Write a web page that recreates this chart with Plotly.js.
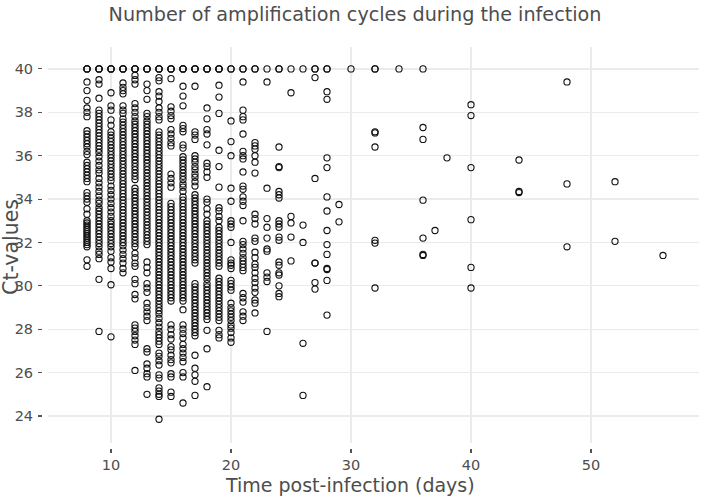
<!DOCTYPE html>
<html><head><meta charset="utf-8">
<script src="https://cdn.plot.ly/plotly-3.0.1.min.js"></script>
<style>html,body{margin:0;padding:0;background:#fff}#chart{width:710px;height:500px}</style>
</head><body><div id="chart"></div>
<script>
const days = [8,9,10,11,12,13,14,15,16,17,18,19,20,21,22,23,24,25,26,27,28,29,30,32,34,36,37,38,40,44,48,52,56];

const ct8 = [40,40,40,39.4,39.0,38.55,38.2,38.0,37.8,37.15,37.0,36.85,36.7,36.55,36.4,36.2,36.05,35.7,35.55,35.4,35.25,35.1,34.95,34.8,34.3,34.15,34.0,33.85,33.55,33.3,33.0,32.9,32.8,32.7,32.6,32.5,32.4,32.3,32.2,32.1,32.0,31.9,31.8,31.2,30.9];
const ct9 = [40,40,40,39.5,39.3,38.65,38.1,37.95,37.8,37.65,37.5,37.35,37.2,37.05,36.9,36.75,36.6,36.45,36.3,36.15,35.95,35.75,35.55,35.35,35.2,34.95,34.75,34.55,34.35,34.15,33.95,33.8,33.6,33.45,33.3,33.15,33.0,32.85,32.7,32.55,32.4,32.25,32.1,31.95,31.8,31.6,31.45,31.25,30.3,27.9];
const ct10 = [40,40,40,38.9,38.3,38.1,37.65,37.4,37.1,36.95,36.8,36.65,36.5,36.35,36.2,36.05,35.9,35.75,35.6,35.45,35.3,35.15,35.0,34.85,34.6,34.4,34.2,34.0,33.8,33.6,33.4,33.2,33.0,32.85,32.7,32.55,32.4,32.25,32.1,31.95,31.8,31.6,31.3,31.1,30.8,30.05,27.65];
const ct11 = [40,40,40,39.35,39.15,39.0,38.85,38.3,38.1,37.95,37.7,37.55,37.4,37.25,37.1,36.95,36.8,36.65,36.5,36.35,36.2,36.05,35.9,35.75,35.6,35.45,35.3,35.15,35.0,34.85,34.7,34.55,34.4,34.25,34.1,33.95,33.8,33.65,33.5,33.35,33.2,33.05,32.9,32.75,32.6,32.45,32.3,32.15,32.0,31.85,31.65,31.45,31.25,31.05,30.8,30.6];
const ct12 = [40,40,40,39.7,39.5,39.3,38.4,38.2,38.0,37.8,37.6,37.45,37.3,37.15,37.0,36.85,36.7,36.55,36.4,36.25,36.1,35.95,35.8,35.65,35.5,35.35,35.2,35.05,34.9,34.5,34.35,34.2,34.05,33.9,33.75,33.6,33.45,33.3,33.15,33.0,32.85,32.7,32.55,32.4,32.25,32.1,31.95,31.8,31.5,31.3,31.05,30.9,30.3,30.1,29.6,29.4,28.2,28.05,27.9,27.7,27.5,27.3,26.1];
const ct13 = [40,40,40,39.3,39.0,38.6,37.95,37.8,37.6,37.45,37.3,37.15,37.0,36.85,36.7,36.55,36.4,36.25,36.1,35.95,35.8,35.65,35.5,35.35,35.2,35.05,34.9,34.75,34.6,34.45,34.3,34.15,34.0,33.85,33.7,33.55,33.4,33.25,33.1,32.95,32.8,32.65,32.5,32.35,32.2,32.05,31.9,31.1,30.85,30.6,30.1,29.9,29.7,29.2,29.0,28.8,28.6,28.4,27.1,26.95,26.4,26.2,25.95,25.8,25.0];
const ct14 = [40,40,40,39.6,39.45,38.95,38.75,38.5,38.2,38.0,37.8,37.65,37.1,36.95,36.8,36.65,36.5,36.35,36.2,36.05,35.9,35.75,35.6,35.45,35.3,35.15,35.0,34.85,34.7,34.55,34.4,34.25,34.1,33.95,33.8,33.65,33.5,33.35,33.2,33.05,32.9,32.75,32.6,32.45,32.3,32.15,32.0,31.85,31.7,31.55,31.4,31.25,31.1,30.95,30.8,30.65,30.5,30.35,30.2,30.05,29.9,29.75,29.6,29.45,29.3,29.15,29.0,28.85,28.7,28.5,28.3,28.1,27.9,27.75,27.6,27.45,27.3,26.9,26.75,26.55,26.35,25.9,25.75,25.3,25.15,25.0,24.9,23.85];
const ct15 = [40,40,40,39.55,38.25,38.05,37.85,37.7,37.2,37.0,36.8,36.6,36.45,35.15,34.95,34.75,34.55,33.8,33.65,33.5,33.35,33.2,33.05,32.9,32.75,32.6,32.45,32.3,32.15,32.0,31.85,31.7,31.55,31.4,31.25,31.1,30.95,30.8,30.65,30.5,30.35,30.2,30.05,29.9,29.75,29.6,29.45,29.3,28.2,28.0,27.75,27.55,27.2,27.05,26.8,26.6,26.45,25.95,25.8,25.1,24.9];
const ct16 = [40,40,40,39.2,38.75,38.3,37.4,37.25,37.1,36.5,36.35,35.95,35.8,35.65,35.5,35.35,35.2,35.05,34.9,34.7,34.55,34.35,34.1,33.95,33.8,33.65,33.5,33.35,33.2,33.05,32.9,32.75,32.6,32.45,32.3,32.15,32.0,31.85,31.7,31.55,31.4,31.25,31.1,30.95,30.8,30.65,30.5,30.35,30.2,30.05,29.9,29.75,29.6,29.45,29.3,28.9,28.2,28.0,27.8,27.6,27.3,27.1,26.9,26.7,26.5,26.0,25.8,24.6];
const ct17 = [40,40,40,39.2,37.1,36.95,36.75,36.0,35.85,35.7,35.5,35.35,35.15,35.0,34.8,34.6,34.2,34.05,33.9,33.75,33.6,33.45,33.3,33.15,33.0,32.85,32.7,32.55,32.4,32.25,32.1,31.95,31.8,31.65,31.5,31.35,31.2,31.05,30.1,29.95,29.8,29.65,29.5,29.35,29.2,29.05,28.9,28.75,28.6,28.45,28.3,28.15,28.0,27.85,27.7,26.8,26.2,25.9,25.6,24.95];
const ct18 = [40,40,40,38.2,37.7,37.2,37.0,36.5,35.65,35.5,35.25,35.0,34.0,33.85,33.55,33.3,33.0,32.85,32.7,32.55,32.4,32.25,32.1,31.95,31.8,31.65,31.5,31.35,31.2,31.05,30.9,30.75,30.6,30.45,30.3,30.1,29.95,29.8,29.65,29.5,29.35,29.2,29.05,28.9,28.75,28.6,28.45,27.95,27.1,25.35];
const ct19 = [40,40,40,39.25,38.7,37.95,36.25,35.5,34.55,33.6,33.45,33.2,33.0,32.7,32.55,32.4,32.25,32.1,31.95,31.8,31.65,31.5,31.35,31.2,31.05,30.9,30.35,30.2,30.05,29.9,29.75,29.6,29.45,29.3,29.15,29.0,28.85,28.7,28.55,28.4,27.95,27.75,27.6];
const ct20 = [40,40,37.6,36.65,36.0,34.5,33.9,33.0,32.85,32.7,32.0,31.2,31.05,30.95,30.8,30.25,30.1,29.95,29.8,29.2,29.0,28.85,28.7,28.55,28.4,28.2,28.05,27.85,27.6,27.4];
const ct21 = [40,40,39.4,38.1,37.8,37.65,37.0,36.2,36.0,35.85,35.25,34.6,34.45,34.1,33.9,33.7,33.0,32.05,31.9,31.7,31.5,31.3,31.15,31.0,30.85,30.7,29.65,29.45,29.25,28.8,28.6,28.4];
const ct22 = [40,40,36.6,36.45,36.3,36.0,35.7,35.2,33.3,33.1,32.85,32.2,32.05,31.55,31.3,31.0,30.85,30.6,30.35,30.15,29.9,29.7,29.35,29.2,28.75];
const ct23 = [40,39.4,34.5,33.1,32.7,32.2,31.7,31.6,30.6,30.4,30.2,27.9];
const ct24 = [40,40,36.4,35.5,35.45,34.35,34.2,34.05,33.0,32.85,32.7,32.25,32.1,31.1,30.95,30.6,30.5,30.0,29.65,29.5];
const ct25 = [40,38.9,33.2,32.9,32.25,31.15];
const ct26 = [40,32.8,32.0,27.35,24.95];
const ct27 = [40,40,39.6,34.95,31.05,31.05,30.15,29.85];
const ct28 = [40,40,38.95,38.6,35.9,35.45,34.1,33.45,32.55,31.9,31.45,30.8,30.75,30.25,28.65];
const ct29 = [33.75,32.95];
const ct30 = [40];
const ct32 = [40,40,37.1,37.05,36.4,32.1,31.97,29.9];
const ct34 = [40];
const ct36 = [40,37.3,36.75,33.95,32.2,31.45,31.4];
const ct37 = [32.55];
const ct38 = [35.9];
const ct40 = [38.35,37.85,35.45,33.05,30.85,29.9];
const ct44 = [35.8,34.35,34.3];
const ct48 = [39.4,34.7,31.8];
const ct52 = [34.8,32.05];
const ct56 = [31.4];

const ctByDay = [ct8,ct9,ct10,ct11,ct12,ct13,ct14,ct15,ct16,ct17,ct18,ct19,ct20,ct21,ct22,ct23,ct24,ct25,ct26,ct27,ct28,ct29,ct30,ct32,ct34,ct36,ct37,ct38,ct40,ct44,ct48,ct52,ct56];

const xTickVals = [10,20,30,40,50];
const yTickVals = [24,26,28,30,32,34,36,38,40];
const chartTitle = 'Number of amplification cycles during the infection';
const xTitle = 'Time post-infection (days)';
const yTitle = 'Ct-values';

const xs = [], ys = [];
days.forEach((d, i) => { ctByDay[i].forEach(v => { xs.push(d); ys.push(v); }); });

const textCol = '#4d4d4d';
const trace = {
  type: 'scatter', mode: 'markers', x: xs, y: ys, hoverinfo: 'x+y',
  marker: { symbol: 'circle-open', size: 6.2, color: '#111', line: { width: 1.1, color: '#111' } }
};

const axisCommon = {
  ticks: 'outside', ticklen: 4, tickwidth: 1.1, tickcolor: '#555',
  showline: true, linecolor: 'rgba(255,255,255,0)', linewidth: 6, zeroline: false,
  showgrid: true, gridcolor: '#ebebeb', gridwidth: 1.3,
  tickfont: { family: 'DejaVu Sans', size: 14.5, color: textCol },
  fixedrange: true
};

const layout = {
  width: 710, height: 500,
  margin: { l: 48, r: 11, t: 47, b: 57 },
  paper_bgcolor: '#fff', plot_bgcolor: '#fff',
  font: { family: 'DejaVu Sans', color: textCol },
  showlegend: false,
  title: { text: chartTitle, font: { family: 'DejaVu Sans', size: 19.2, color: textCol },
           x: 0.5, xref: 'container', xanchor: 'center', y: 0.972, yref: 'container', yanchor: 'middle' },
  xaxis: Object.assign({}, axisCommon, { range: [4.75, 59], tickvals: xTickVals }),
  yaxis: Object.assign({}, axisCommon, { range: [22.755, 41.01], tickvals: yTickVals, ticklabelstandoff: 2 }),
  annotations: [
    { text: xTitle, xref: 'paper', yref: 'paper', x: 0.464, y: -0.106, xanchor: 'center', yanchor: 'middle',
      showarrow: false, font: { family: 'DejaVu Sans', size: 19, color: textCol } },
    { text: yTitle, xref: 'paper', yref: 'paper', x: -0.056, y: 0.494, xanchor: 'center', yanchor: 'middle',
      textangle: -90, showarrow: false, font: { family: 'DejaVu Sans', size: 20.5, color: textCol } }
  ]
};

Plotly.newPlot('chart', [trace], layout, { displayModeBar: false, staticPlot: true });
</script>
</body></html>
